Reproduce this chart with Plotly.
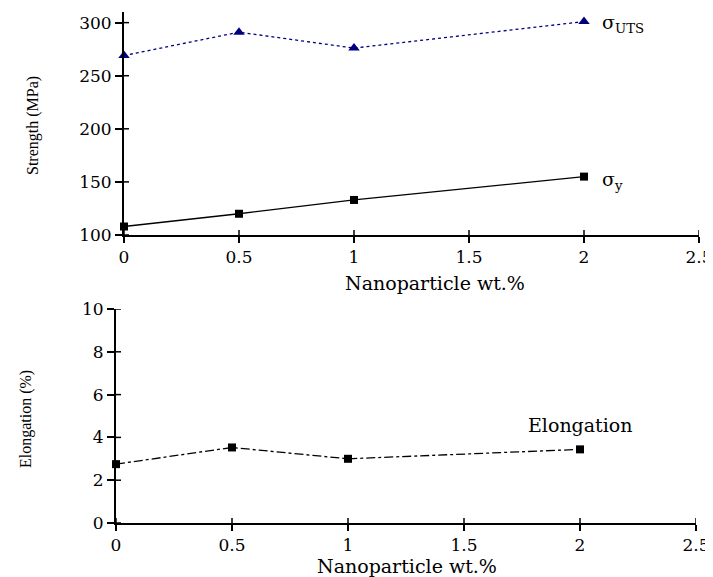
import plotly.graph_objects as go

x_wt = [0, 0.5, 1, 2]
uts = [269, 291, 276, 301]
ys = [108, 120, 133, 155]
elong = [2.75, 3.53, 3.0, 3.44]

x_ticks = [0, 0.5, 1, 1.5, 2, 2.5]
x_ticklabels = ["0", "0.5", "1", "1.5", "2", "2.5"]
top_y_ticks = [100, 150, 200, 250, 300]
bot_y_ticks = [0, 2, 4, 6, 8, 10]
top_y_range = [100, 310]
bot_y_range = [0, 10]
x_range = [0, 2.5]

# page has an 8px body margin; figure sized to fill the rest of the window
OFF = 8
W, H = 713 - OFF, 577 - OFF
FONT = "DejaVu Serif"

def px_x(p):
    return (p - OFF) / W

def px_y(p):
    return 1 - (p - OFF) / H

fig = go.Figure()

fig.add_trace(go.Scatter(x=x_wt, y=uts, mode="lines+markers", xaxis="x", yaxis="y",
                         line=dict(color="#00007f", width=1.3, dash="dot"),
                         marker=dict(symbol="triangle-up", size=10, color="#00007f"),
                         cliponaxis=False, showlegend=False))
fig.add_trace(go.Scatter(x=x_wt, y=ys, mode="lines+markers", xaxis="x", yaxis="y",
                         line=dict(color="black", width=1.3),
                         marker=dict(symbol="square", size=8, color="black"),
                         cliponaxis=False, showlegend=False))
fig.add_trace(go.Scatter(x=x_wt, y=elong, mode="lines+markers", xaxis="x2", yaxis="y2",
                         line=dict(color="black", width=1.3, dash="dashdot"),
                         marker=dict(symbol="square", size=8, color="black"),
                         cliponaxis=False, showlegend=False))

tickfont = dict(family=FONT, size=17, color="black")

def xax(domain, anchor):
    return dict(domain=domain, anchor=anchor, range=x_range, tickvals=x_ticks,
                ticktext=x_ticklabels, showgrid=False, zeroline=False, automargin=False,
                ticks="outside", ticklen=6, tickwidth=1.5, tickcolor="black",
                showline=True, linecolor="black", linewidth=1.8, tickfont=tickfont,
                fixedrange=True)

def yax(domain, anchor, rng, tv):
    return dict(domain=domain, anchor=anchor, range=rng, tickvals=tv, showgrid=False,
                zeroline=False, automargin=False, ticks="outside", ticklen=7,
                tickwidth=1.5, tickcolor="black", showline=True, linecolor="black",
                linewidth=1.8, tickfont=tickfont, fixedrange=True)

top_xd = [px_x(124), px_x(699)]
top_yd = [px_y(235), px_y(12)]
bot_xd = [px_x(116), px_x(696)]
bot_yd = [px_y(523), px_y(309)]

fig.update_layout(
    width=W, height=H,
    margin=dict(l=0, r=0, t=0, b=0, autoexpand=False),
    paper_bgcolor="white", plot_bgcolor="white",
    xaxis=xax(top_xd, "y"),
    yaxis=yax(top_yd, "x", top_y_range, top_y_ticks),
    xaxis2=xax(bot_xd, "y2"),
    yaxis2=yax(bot_yd, "x2", bot_y_range, bot_y_ticks),
)

# inner half of the crossing tick marks
shapes = []
for xr, yr, ybase, xbase, xt, yt in [("x", "y", top_y_range[0], x_range[0], x_ticks, top_y_ticks),
                                      ("x2", "y2", bot_y_range[0], x_range[0], x_ticks, bot_y_ticks)]:
    for t in xt:
        shapes.append(dict(type="line", xref=xr, yref=yr, x0=t, x1=t, ysizemode="pixel",
                           yanchor=ybase, y0=0, y1=5, line=dict(color="black", width=1.5)))
    for t in yt:
        shapes.append(dict(type="line", xref=xr, yref=yr, y0=t, y1=t, xsizemode="pixel",
                           xanchor=xbase, x0=0, x1=5, line=dict(color="black", width=1.5)))
fig.update_layout(shapes=shapes)

lab = dict(family=FONT, size=19, color="black")
ylab = dict(family="Liberation Serif", size=16, color="black")
annotations = [
    dict(text="Nanoparticle wt.%", x=px_x(435), y=px_y(283), xref="paper", yref="paper",
         showarrow=False, font=lab, xanchor="center", yanchor="middle"),
    dict(text="Nanoparticle wt.%", x=px_x(407), y=px_y(566), xref="paper", yref="paper",
         showarrow=False, font=lab, xanchor="center", yanchor="middle"),
    dict(text="Strength (MPa)", x=px_x(33), y=px_y(126), xref="paper", yref="paper",
         showarrow=False, font=ylab, textangle=-90, xanchor="center", yanchor="middle"),
    dict(text="Elongation (%)", x=px_x(26), y=px_y(419), xref="paper", yref="paper",
         showarrow=False, font=ylab, textangle=-90, xanchor="center", yanchor="middle"),
    dict(text="σ<sub>UTS</sub>", x=2.07, y=299, xref="x", yref="y", showarrow=False,
         font=lab, xanchor="left", yanchor="middle"),
    dict(text="σ<sub>y</sub>", x=2.07, y=151, xref="x", yref="y", showarrow=False,
         font=lab, xanchor="left", yanchor="middle"),
    dict(text="Elongation", x=2.0, y=4.6, xref="x2", yref="y2", showarrow=False,
         font=lab, xanchor="center", yanchor="middle"),
]
fig.update_layout(annotations=annotations)

fig.write_html("out.html")
